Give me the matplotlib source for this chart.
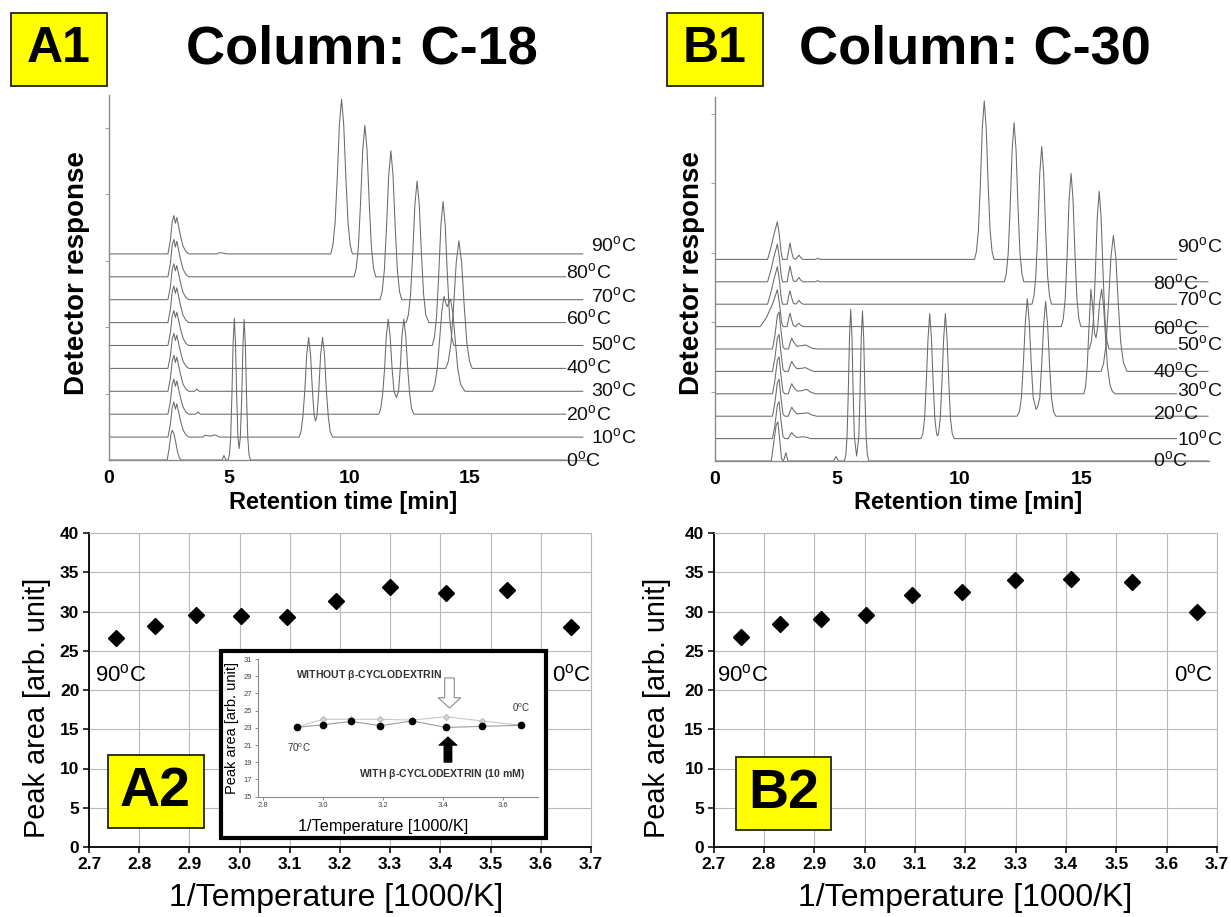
import matplotlib
matplotlib.use('Agg')
import matplotlib.pyplot as plt
from matplotlib.patches import Rectangle, FancyArrow
import numpy as np

plt.rcParams['font.family'] = ['Liberation Sans', 'DejaVu Sans']
plt.rcParams['mathtext.fontset'] = 'custom'
plt.rcParams['mathtext.rm'] = 'Liberation Sans'
plt.rcParams['mathtext.bf'] = 'Liberation Sans:bold'

W, H = 1231, 917

# ---------------- data ----------------
temps = [0, 10, 20, 30, 40, 50, 60, 70, 80, 90]

# chromatogram vertices (retention time [min], response above own baseline), column C-18
c18_0 = [(2.42, 0), (2.5, 0.5), (2.57, 1.1), (2.63, 1.3), (2.7, 1.15), (2.77, 0.8), (2.85, 0.35), (2.93, 0.08), (3.0, 0),
         (4.7, 0), (4.78, 0.2), (4.86, 0),
         (4.95, 0), (5.01, 0.25), (5.06, 0.99), (5.11, 2.79), (5.16, 5.08), (5.21, 6.19), (5.26, 5.08), (5.31, 2.79),
         (5.36, 0.99), (5.41, 0.5), (5.46, 0.98), (5.52, 2.76), (5.57, 5.03), (5.62, 6.14), (5.67, 5.03), (5.72, 2.76),
         (5.77, 0.98), (5.82, 0.25), (5.88, 0)]
c18_10 = [(2.45, 0), (2.55, 0.54), (2.63, 1.3), (2.7, 1.53), (2.76, 1.22), (2.82, 1.45), (2.9, 1.07), (2.98, 0.69), (3.08, 0.31), (3.2, 0.09), (3.32, 0),
          (3.9, 0), (4.0, 0.08), (4.2, 0.04), (4.4, 0.1), (4.6, 0),
          (7.9, 0), (7.98, 0.22), (8.06, 0.87), (8.14, 2.0), (8.22, 3.6), (8.3, 4.35), (8.38, 3.6), (8.46, 2.0), (8.53, 0.95),
          (8.59, 0.7), (8.65, 0.95), (8.72, 2.0), (8.8, 3.6), (8.88, 4.35), (8.96, 3.6), (9.04, 2.0), (9.12, 0.87), (9.2, 0.22), (9.3, 0)]
c18_20 = [(2.45, 0), (2.55, 0.54), (2.63, 1.3), (2.7, 1.53), (2.76, 1.22), (2.82, 1.45), (2.9, 1.07), (2.98, 0.69), (3.08, 0.31), (3.2, 0.09), (3.32, 0),
          (3.6, 0), (3.7, 0.1), (3.8, 0),
          (11.22, 0), (11.3, 0.25), (11.38, 0.9), (11.46, 2.0), (11.53, 3.4), (11.61, 4.15), (11.69, 3.4), (11.77, 2.0), (11.85, 1.0),
          (11.95, 0.73), (12.04, 1.0), (12.11, 2.0), (12.18, 3.4), (12.26, 4.15), (12.34, 3.4), (12.42, 2.0), (12.5, 0.9), (12.58, 0.25), (12.68, 0)]
c18_30 = [(2.45, 0), (2.55, 0.55), (2.63, 1.33), (2.7, 1.57), (2.76, 1.26), (2.82, 1.49), (2.9, 1.1), (2.98, 0.71), (3.08, 0.31), (3.2, 0.09), (3.32, 0),
          (3.55, 0), (3.65, 0.1), (3.75, 0),
          (13.45, 0), (13.55, 0.3), (13.65, 1.0), (13.75, 2.3), (13.84, 3.5), (13.93, 4.15), (14.02, 3.8), (14.07, 3.7), (14.12, 3.85),
          (14.2, 4.03), (14.3, 3.4), (14.4, 2.2), (14.5, 1.0), (14.62, 0.3), (14.8, 0)]
c18_40 = [(2.45, 0), (2.55, 0.54), (2.63, 1.3), (2.7, 1.53), (2.76, 1.22), (2.82, 1.45), (2.9, 1.07), (2.98, 0.69), (3.08, 0.31), (3.2, 0.09), (3.32, 0),
          (14.0, 0), (14.11, 0.31), (14.22, 1.11), (14.33, 2.73), (14.44, 4.65), (14.55, 5.57), (14.66, 4.65), (14.77, 2.73),
          (14.88, 1.11), (14.99, 0.31), (15.1, 0)]
c18_50 = [(2.45, 0), (2.55, 0.54), (2.63, 1.3), (2.7, 1.53), (2.76, 1.22), (2.82, 1.45), (2.9, 1.07), (2.98, 0.69), (3.08, 0.31), (3.2, 0.09), (3.32, 0),
          (13.44, 0), (13.53, 0.35), (13.62, 1.26), (13.71, 3.08), (13.8, 5.25), (13.89, 6.29), (13.98, 5.25), (14.07, 3.08),
          (14.16, 1.26), (14.25, 0.35), (14.34, 0)]
c18_60 = [(2.45, 0), (2.55, 0.56), (2.63, 1.36), (2.7, 1.6), (2.76, 1.28), (2.82, 1.52), (2.9, 1.12), (2.98, 0.72), (3.08, 0.32), (3.2, 0.1), (3.32, 0),
          (12.36, 0), (12.45, 0.35), (12.54, 1.24), (12.63, 3.03), (12.72, 5.16), (12.81, 6.18), (12.9, 5.16), (12.99, 3.03),
          (13.08, 1.24), (13.17, 0.35), (13.3, 0)]
c18_70 = [(2.45, 0), (2.55, 0.55), (2.63, 1.33), (2.7, 1.57), (2.76, 1.26), (2.82, 1.49), (2.9, 1.1), (2.98, 0.71), (3.08, 0.31), (3.2, 0.09), (3.32, 0),
          (11.27, 0), (11.36, 0.36), (11.45, 1.3), (11.54, 3.19), (11.63, 5.43), (11.72, 6.5), (11.81, 5.43), (11.9, 3.19),
          (11.99, 1.3), (12.08, 0.36), (12.17, 0)]
c18_80 = [(2.45, 0), (2.55, 0.57), (2.63, 1.39), (2.7, 1.63), (2.76, 1.3), (2.82, 1.55), (2.9, 1.14), (2.98, 0.73), (3.08, 0.33), (3.2, 0.1), (3.32, 0),
          (10.19, 0), (10.28, 0.37), (10.37, 1.32), (10.46, 3.24), (10.55, 5.53), (10.64, 6.62), (10.73, 5.53), (10.82, 3.24),
          (10.91, 1.32), (11.0, 0.37), (11.09, 0)]
c18_90 = [(2.45, 0), (2.55, 0.58), (2.63, 1.42), (2.7, 1.67), (2.76, 1.34), (2.82, 1.59), (2.9, 1.17), (2.98, 0.75), (3.08, 0.33), (3.2, 0.1), (3.32, 0),
          (4.5, 0), (4.6, 0.06), (4.75, 0.03), (4.9, 0),
          (9.22, 0), (9.31, 0.38), (9.4, 1.35), (9.49, 3.31), (9.58, 5.64), (9.67, 6.76), (9.76, 5.64), (9.85, 3.31),
          (9.94, 1.35), (10.03, 0.38), (10.12, 0)]

# column C-30
c30_0 = [(2.3, 0), (2.4, 0.8), (2.5, 1.6), (2.57, 1.75), (2.65, 0.9), (2.72, 0.1), (2.8, 0), (2.9, 0.37), (2.98, 0),
         (4.85, 0), (4.95, 0.2), (5.05, 0),
         (5.29, 0), (5.35, 0.27), (5.4, 1.08), (5.45, 3.05), (5.5, 5.55), (5.55, 6.77), (5.6, 5.55), (5.65, 3.05), (5.7, 1.08),
         (5.79, 0.22), (5.88, 1.07), (5.93, 3.0), (5.98, 5.5), (6.03, 6.7), (6.08, 5.5), (6.13, 3.0), (6.18, 1.07), (6.23, 0.27), (6.29, 0)]
c30_10 = [(2.35, 0), (2.45, 0.6), (2.55, 1.5), (2.62, 1.65), (2.7, 0.8), (2.78, 0.1), (2.85, 0),
          (3.0, 0), (3.08, 0.18), (3.14, 0.27), (3.22, 0.15), (3.35, 0.05), (3.6, 0.08), (3.75, 0.06), (3.9, 0),
          (8.42, 0), (8.5, 0.22), (8.57, 0.89), (8.64, 2.51), (8.71, 4.46), (8.78, 5.58), (8.85, 4.46), (8.92, 2.51), (8.99, 0.89),
          (9.06, 0.22), (9.1, 0.12), (9.14, 0.22), (9.21, 0.89), (9.28, 2.51), (9.35, 4.46), (9.42, 5.58), (9.49, 4.46),
          (9.56, 2.51), (9.63, 0.89), (9.7, 0.22), (9.78, 0)]
c30_20 = [(2.35, 0), (2.45, 0.6), (2.55, 1.5), (2.62, 1.65), (2.7, 0.8), (2.78, 0.1), (2.85, 0),
          (3.0, 0), (3.08, 0.26), (3.14, 0.4), (3.22, 0.25), (3.35, 0.1), (3.6, 0.13), (3.8, 0.15), (3.95, 0.06), (4.15, 0),
          (12.35, 0), (12.45, 0.21), (12.53, 0.84), (12.61, 2.36), (12.69, 4.2), (12.77, 5.25), (12.85, 4.2), (12.93, 2.36),
          (13.01, 0.84), (13.13, 0.3), (13.2, 0.45), (13.28, 0.82), (13.36, 2.31), (13.44, 4.1), (13.52, 5.13), (13.6, 4.1),
          (13.68, 2.31), (13.76, 0.82), (13.84, 0.2), (13.94, 0)]
c30_30 = [(2.35, 0), (2.45, 0.6), (2.55, 1.5), (2.62, 1.65), (2.7, 0.8), (2.78, 0.1), (2.85, 0),
          (3.0, 0), (3.08, 0.3), (3.14, 0.45), (3.22, 0.28), (3.35, 0.12), (3.55, 0.14), (3.75, 0.2), (3.9, 0.08), (4.1, 0),
          (15.08, 0), (15.15, 0.3), (15.22, 1.2), (15.29, 2.9), (15.37, 4.67), (15.45, 3.8), (15.52, 2.7), (15.58, 2.5),
          (15.65, 3.0), (15.73, 4.1), (15.81, 4.67), (15.89, 3.9), (15.97, 2.5), (16.05, 1.2), (16.15, 0.4), (16.25, 0.1), (16.36, 0)]
c30_40 = [(2.35, 0), (2.45, 0.6), (2.55, 1.5), (2.62, 1.65), (2.7, 0.8), (2.78, 0.1), (2.85, 0),
          (3.0, 0), (3.08, 0.3), (3.14, 0.45), (3.22, 0.28), (3.35, 0.12), (3.55, 0.14), (3.7, 0.17), (3.85, 0.08), (4.05, 0),
          (15.79, 0), (15.89, 0.36), (15.99, 1.21), (16.09, 3.03), (16.19, 5.1), (16.29, 6.06), (16.39, 5.1), (16.49, 3.03),
          (16.59, 1.3), (16.7, 0.4), (16.85, 0)]
c30_50 = [(2.35, 0), (2.45, 0.6), (2.55, 1.5), (2.62, 1.65), (2.7, 0.8), (2.78, 0.1), (2.85, 0),
          (3.0, 0), (3.08, 0.3), (3.14, 0.48), (3.22, 0.3), (3.35, 0.12), (3.55, 0.15), (3.7, 0.18), (3.85, 0.1), (4.0, 0.02), (4.2, 0),
          (15.31, 0), (15.39, 0.35), (15.47, 1.27), (15.55, 3.31), (15.63, 5.84), (15.71, 7.04), (15.79, 5.84), (15.87, 3.31),
          (15.95, 1.27), (16.03, 0.35), (16.11, 0)]
c30_60 = [(1.85, 0), (2.1, 0.4), (2.35, 1.0), (2.55, 1.65), (2.64, 1.0), (2.72, 0.2), (2.78, 0),
          (2.95, 0), (3.02, 0.4), (3.07, 0.6), (3.12, 0.35), (3.2, 0.05), (3.3, 0), (3.38, 0.1), (3.44, 0.15), (3.5, 0.06), (3.6, 0),
          (14.16, 0), (14.24, 0.34), (14.32, 1.23), (14.4, 3.21), (14.48, 5.68), (14.56, 6.84), (14.64, 5.68), (14.72, 3.21),
          (14.8, 1.23), (14.88, 0.34), (14.96, 0)]
c30_70 = [(2.15, 0), (2.28, 0.5), (2.42, 1.15), (2.55, 1.68), (2.63, 1.1), (2.7, 0.35), (2.76, 0),
          (2.95, 0), (3.02, 0.4), (3.07, 0.6), (3.12, 0.35), (3.2, 0.05), (3.3, 0), (3.38, 0.1), (3.44, 0.17), (3.5, 0.07), (3.6, 0),
          (12.96, 0), (13.04, 0.35), (13.12, 1.27), (13.2, 3.31), (13.28, 5.84), (13.36, 7.04), (13.44, 5.84), (13.52, 3.31),
          (13.6, 1.27), (13.68, 0.35), (13.76, 0)]
c30_80 = [(2.15, 0), (2.28, 0.5), (2.42, 1.15), (2.55, 1.68), (2.63, 1.1), (2.7, 0.35), (2.76, 0),
          (2.95, 0), (3.02, 0.45), (3.07, 0.7), (3.12, 0.4), (3.2, 0.05), (3.3, 0), (3.38, 0.12), (3.44, 0.19), (3.5, 0.08), (3.6, 0),
          (4.1, 0), (4.2, 0.05), (4.3, 0),
          (11.83, 0), (11.91, 0.36), (11.99, 1.28), (12.07, 3.34), (12.15, 5.89), (12.23, 7.1), (12.31, 5.89), (12.39, 3.34),
          (12.47, 1.28), (12.55, 0.36), (12.63, 0)]
c30_90 = [(2.15, 0), (2.28, 0.5), (2.42, 1.15), (2.55, 1.68), (2.63, 1.1), (2.7, 0.35), (2.76, 0),
          (2.95, 0), (3.02, 0.45), (3.07, 0.74), (3.12, 0.4), (3.2, 0.05), (3.3, 0), (3.38, 0.12), (3.44, 0.19), (3.5, 0.08), (3.6, 0),
          (4.1, 0), (4.2, 0.05), (4.3, 0),
          (10.61, 0), (10.69, 0.35), (10.77, 1.27), (10.85, 3.32), (10.93, 5.87), (11.01, 7.07), (11.09, 5.87), (11.17, 3.32),
          (11.25, 1.27), (11.33, 0.35), (11.41, 0)]

c18_traces = [c18_0, c18_10, c18_20, c18_30, c18_40, c18_50, c18_60, c18_70, c18_80, c18_90]
c30_traces = [c30_0, c30_10, c30_20, c30_30, c30_40, c30_50, c30_60, c30_70, c30_80, c30_90]

# peak area vs 1/T
inv_temp = [2.754, 2.832, 2.914, 3.002, 3.095, 3.193, 3.299, 3.411, 3.532, 3.661]
area_c18 = [26.6, 28.2, 29.6, 29.4, 29.3, 31.3, 33.1, 32.4, 32.7, 28.0]
area_c30 = [26.7, 28.4, 29.1, 29.6, 32.1, 32.5, 34.0, 34.2, 33.7, 30.0]

# inset (70 C .. 0 C)
inset_x = [2.914, 3.002, 3.095, 3.193, 3.299, 3.411, 3.532, 3.661]
with_cd = [23.06, 23.36, 23.75, 23.25, 23.8, 23.05, 23.17, 23.3]
without_cd = [23.1, 24.0, 24.0, 24.0, 23.9, 24.3, 23.8, 23.3]

x_ticks_T = [2.7, 2.8, 2.9, 3.0, 3.1, 3.2, 3.3, 3.4, 3.5, 3.6, 3.7]
y_ticks_area = [0, 5, 10, 15, 20, 25, 30, 35, 40]
inset_xticks = [2.8, 3.0, 3.2, 3.4, 3.6]
inset_yticks = [15, 17, 19, 21, 23, 25, 27, 29, 31]


def frac(x0, y0, x1, y1):
    return [x0 / W, 1 - y1 / H, (x1 - x0) / W, (y1 - y0) / H]


def deg(t):
    return r'%d$^{\mathrm{o}}$C' % t


fig = plt.figure(figsize=(W / 100, H / 100), dpi=100)


def chrom(ax, traces, ends, lab_x, lab_dy, xmax, ytop, ystep, cap):
    for i, tr in enumerate(traces):
        t = [0] + [p[0] for p in tr] + [ends[i]]
        y = [0] + [p[1] for p in tr] + [0]
        ax.plot(t, np.array(y) + i, color='#6a6a6a', lw=0.75)
        ax.text(lab_x[i], i + lab_dy[i] - cap, deg(temps[i]), fontsize=14, ha='left', va='baseline',
                color='#111111')
    ax.set_xlim(0, xmax)
    ax.set_ylim(0, ytop)
    ax.set_xticks([0, 5, 10, 15])
    ax.set_xticklabels(['0', '5', '10', '15'], fontsize=14, fontweight='bold')
    ax.tick_params(axis='x', length=0, pad=7)
    ax.set_yticks(np.arange(ystep, ytop, ystep))
    ax.set_yticklabels([])
    ax.tick_params(axis='y', length=3, width=0.7, color='#a0a0a0', direction='out')
    for s in ['top', 'right']:
        ax.spines[s].set_visible(False)
    for s in ['left', 'bottom']:
        ax.spines[s].set_color('#8a8a8a')
        ax.spines[s].set_linewidth(1.0)


# ---- A1 ----
ax1 = fig.add_axes(frac(109, 95, 590, 460))
chrom(ax1, c18_traces,
      [18.99 if i % 2 == 0 else 19.7 for i in range(10)],
      [19.02 if i % 2 == 0 else 20.05 for i in range(10)],
      [0, 0, 0, 0.07, 0.07, 0.07, 0.19, 0.17, 0.19, 0.39],
      20, 365 / 22.9, 2.9, 0.3)
# ---- B1 ----
ax2 = fig.add_axes(frac(715, 97, 1209, 461))
chrom(ax2, c30_traces,
      [20.16 if i % 2 == 0 else 18.88 for i in range(10)],
      [17.9 if i % 2 == 0 else 18.9 for i in range(10)],
      [0.04, 0, 0.15, 0.18, 0.03, 0.22, -0.05, 0.22, -0.04, 0.6],
      20.2, 364 / 22.4, 3.1, 0.31)

for (cx, cy) in [(343, 502), (968, 502)]:
    fig.text(cx / W, 1 - cy / H, 'Retention time [min]', ha='center', va='center', fontsize=17, fontweight='bold')
for (cx, cy) in [(77, 273), (692, 273)]:
    fig.text(cx / W, 1 - cy / H, 'Detector response', ha='center', va='center', rotation=90,
             fontsize=20, fontweight='bold')


def area_panel(ax, y):
    ax.plot(inv_temp, y, ls='none', marker='D', ms=8, color='black', zorder=3, clip_on=False)
    ax.set_xlim(2.7, 3.7)
    ax.set_ylim(0, 40)
    ax.set_xticks(x_ticks_T)
    ax.set_xticklabels(['%.1f' % v for v in x_ticks_T], fontsize=12.5, fontweight='bold')
    ax.set_yticks(y_ticks_area)
    ax.set_yticklabels([str(v) for v in y_ticks_area], fontsize=12.5, fontweight='bold')
    ax.grid(True, color='#b8b8b8', lw=0.8)
    ax.set_axisbelow(True)
    ax.tick_params(direction='out', length=4, width=1.1, pad=3)
    ax.spines['left'].set_linewidth(1.3)
    ax.spines['bottom'].set_linewidth(1.3)
    for s in ['top', 'right']:
        ax.spines[s].set_color('#b8b8b8')
        ax.spines[s].set_linewidth(0.8)


ax3 = fig.add_axes(frac(89, 533, 591, 847))
area_panel(ax3, area_c18)
ax3.text(2.712, 21.8, deg(90), fontsize=16, ha='left', va='center')
ax3.text(3.7, 21.8, deg(0), fontsize=16, ha='right', va='center')

ax4 = fig.add_axes(frac(713.5, 533, 1217, 847))
area_panel(ax4, area_c30)
ax4.text(2.707, 21.9, deg(90), fontsize=16, ha='left', va='center')
ax4.text(3.693, 21.9, deg(0), fontsize=16, ha='right', va='center')

for (cx, cy) in [(336, 898), (965, 898)]:
    fig.text(cx / W, 1 - cy / H, '1/Temperature [1000/K]', ha='center', va='center', fontsize=23)
for (cx, cy) in [(37.5, 708), (657, 708)]:
    fig.text(cx / W, 1 - cy / H, 'Peak area [arb. unit]', ha='center', va='center', rotation=90, fontsize=20.8)

# yellow panel tags and titles
for (x0, y0, x1, y1), s, fs in [((11, 13, 107, 86), 'A1', 36), ((667, 13, 763, 86), 'B1', 36),
                                ((107.5, 755, 203.6, 828), 'A2', 40), ((735.7, 757, 831, 830), 'B2', 40)]:
    fig.add_artist(Rectangle((x0 / W, 1 - y1 / H), (x1 - x0) / W, (y1 - y0) / H, transform=fig.transFigure,
                             facecolor='#ffff00', edgecolor='#222222', lw=1.3, zorder=2))
    fig.text((x0 + x1) / 2 / W, 1 - (y0 + y1) / 2 / H, s, ha='center', va='center', fontsize=fs,
             fontweight='bold', zorder=3)
fig.text(362 / W, 1 - 49 / H, 'Column: C-18', ha='center', va='center', fontsize=39, fontweight='bold')
fig.text(975 / W, 1 - 49 / H, 'Column: C-30', ha='center', va='center', fontsize=39, fontweight='bold')

# ---- inset ----
fig.add_artist(Rectangle((221 / W, 1 - 838.3 / H), 324.5 / W, 187.6 / H, transform=fig.transFigure,
                         facecolor='white', edgecolor='black', lw=3, zorder=2))
axi = fig.add_axes(frac(258, 659, 538, 796.7), zorder=3)
axi.patch.set_alpha(0)
axi.plot(inset_x, without_cd, color='#c8c8c8', lw=0.8, marker='D', ms=3, mfc='#d8d8d8', mec='#c0c0c0')
axi.plot(inset_x, with_cd, color='#9a9a9a', lw=0.8, marker='o', ms=4.5, mfc='black', mec='black')
axi.set_xlim(2.785, 3.718)
axi.set_ylim(15, 31)
axi.set_xticks(inset_xticks)
axi.set_xticklabels(['%.1f' % v for v in inset_xticks], fontsize=5.5, color='#444444')
axi.set_yticks(inset_yticks)
axi.set_yticklabels([str(v) for v in inset_yticks], fontsize=5.5, color='#444444')
axi.tick_params(length=2, width=0.6, color='#777777', pad=2)
for s in ['top', 'right']:
    axi.spines[s].set_visible(False)
for s in ['left', 'bottom']:
    axi.spines[s].set_color('#888888')
    axi.spines[s].set_linewidth(0.8)
axi.text(2.912, 29.1, r'WITHOUT $\mathbf{\beta}$-CYCLODEXTRIN', fontsize=7.6, fontweight='bold', color='#333333', va='center')
axi.text(3.123, 17.6, r'WITH $\mathbf{\beta}$-CYCLODEXTRIN (10 mM)', fontsize=7.6, fontweight='bold', color='#333333', va='center')
axi.text(2.88, 20.7, deg(70), fontsize=7, color='#333333', va='center')
axi.text(3.633, 25.3, deg(0), fontsize=7, color='#333333', va='center')
axi.add_patch(FancyArrow(3.423, 28.8, 0, -3.5, width=0.032, head_width=0.075, head_length=1.2,
                         length_includes_head=True, facecolor='white', edgecolor='#8c8c8c', lw=0.8))
axi.add_patch(FancyArrow(3.418, 19.0, 0, 2.97, width=0.027, head_width=0.062, head_length=1.0,
                         length_includes_head=True, facecolor='black', edgecolor='black', lw=0.5))
fig.text(383 / W, 1 - 826.7 / H, '1/Temperature [1000/K]', ha='center', va='center', fontsize=11.7, zorder=4)
fig.text(231.7 / W, 1 - 728 / H, 'Peak area [arb. unit]', ha='center', va='center', rotation=90,
         fontsize=10.5, zorder=4)

fig.savefig('out.png', dpi=100)
